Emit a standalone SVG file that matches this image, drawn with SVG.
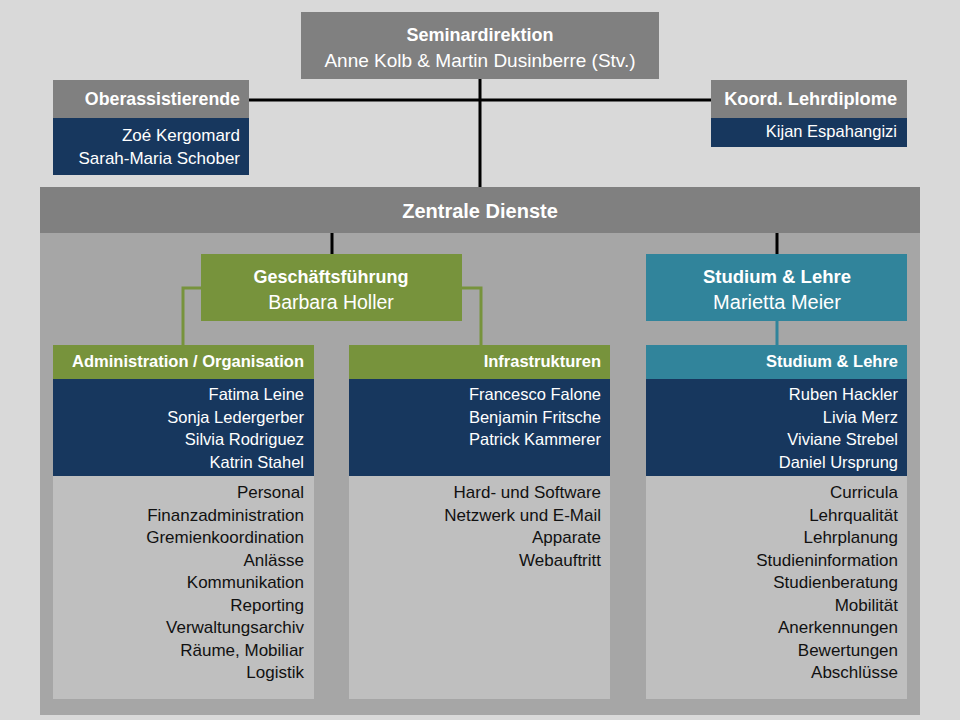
<svg xmlns="http://www.w3.org/2000/svg" width="960" height="720" viewBox="0 0 960 720">
<style>
text{font-family:"Liberation Sans","Open Sans",sans-serif;}
.w{fill:#fff;}
.b{font-weight:bold;}
.r{text-anchor:end;}
.c{text-anchor:middle;}
.gray{fill:#808080;}
.navy{fill:#17375e;}
.green{fill:#77933c;}
.teal{fill:#31849b;}
.lt{fill:#bfbfbf;}
.t{fill:#111;font-size:17px;}
.n{fill:#fff;font-size:16.5px;}
.h{fill:#fff;font-size:16.5px;font-weight:bold;}
</style>
<rect width="960" height="720" fill="#d9d9d9"/>
<g id="zentrale">
<rect x="40" y="187" width="880" height="528" fill="#a6a6a6"/>
<rect x="40" y="187" width="880" height="46" class="gray"/>
<text x="480" y="218" class="w b c" font-size="20">Zentrale Dienste</text>
</g>
<g id="connectors">
<path d="M249 100H711M480 79V187" stroke="#000" stroke-width="3" fill="none"/>
<path d="M332 233V254M777 233V254" stroke="#000" stroke-width="3" fill="none"/>
<path d="M201 288H183V345M462 288H481V345" stroke="#77933c" stroke-width="3" fill="none"/>
<path d="M777 321V345" stroke="#31849b" stroke-width="3" fill="none"/>
</g>
<g id="seminardirektion">
<rect x="301" y="12" width="358" height="67" class="gray"/>
<text x="480" y="41" class="w b c" font-size="18">Seminardirektion</text>
<text x="480" y="67" class="w c" font-size="19">Anne Kolb &amp; Martin Dusinberre (Stv.)</text>
</g>
<g id="oberassistierende">
<rect x="53" y="80" width="196" height="38" class="gray"/>
<rect x="53" y="118" width="196" height="57" class="navy"/>
<text x="240" y="105" class="w b r" font-size="17.8">Oberassistierende</text>
<text x="240" y="141" class="n r" style="font-size:17px">Zoé Kergomard</text>
<text x="240" y="164" class="n r" style="font-size:17px">Sarah-Maria Schober</text>
</g>
<g id="koord">
<rect x="711" y="80" width="196" height="38" class="gray"/>
<rect x="711" y="118" width="196" height="29" class="navy"/>
<text x="897" y="105" class="w b r" font-size="18.2">Koord. Lehrdiplome</text>
<text x="897" y="137" class="n r">Kijan Espahangizi</text>
</g>
<g id="geschaeftsfuehrung">
<rect x="201" y="254" width="261" height="67" class="green"/>
<text x="331" y="283" class="w b c" font-size="18">Geschäftsführung</text>
<text x="331" y="309" class="w c" font-size="19.5">Barbara Holler</text>
</g>
<g id="studium-lehre-top">
<rect x="646" y="254" width="261" height="67" class="teal"/>
<text x="777" y="283" class="w b c" font-size="18.5">Studium &amp; Lehre</text>
<text x="777" y="309" class="w c" font-size="20">Marietta Meier</text>
</g>
<g id="administration">
<rect x="53" y="345" width="261" height="34" class="green"/>
<rect x="53" y="379" width="261" height="97" class="navy"/>
<rect x="53" y="476" width="261" height="223" class="lt"/>
<text x="304" y="367" class="h r">Administration / Organisation</text>
<text x="304" y="400" class="n r">Fatima Leine</text>
<text x="304" y="423" class="n r">Sonja Ledergerber</text>
<text x="304" y="445" class="n r">Silvia Rodriguez</text>
<text x="304" y="468" class="n r">Katrin Stahel</text>
<text x="304" y="498" class="t r">Personal</text>
<text x="304" y="521" class="t r">Finanzadministration</text>
<text x="304" y="543" class="t r">Gremienkoordination</text>
<text x="304" y="566" class="t r">Anlässe</text>
<text x="304" y="588" class="t r">Kommunikation</text>
<text x="304" y="611" class="t r">Reporting</text>
<text x="304" y="633" class="t r">Verwaltungsarchiv</text>
<text x="304" y="656" class="t r">Räume, Mobiliar</text>
<text x="304" y="678" class="t r">Logistik</text>
</g>
<g id="infrastrukturen">
<rect x="349" y="345" width="261" height="34" class="green"/>
<rect x="349" y="379" width="261" height="97" class="navy"/>
<rect x="349" y="476" width="261" height="223" class="lt"/>
<text x="601" y="367" class="h r">Infrastrukturen</text>
<text x="601" y="400" class="n r">Francesco Falone</text>
<text x="601" y="423" class="n r">Benjamin Fritsche</text>
<text x="601" y="445" class="n r">Patrick Kammerer</text>
<text x="601" y="498" class="t r">Hard- und Software</text>
<text x="601" y="521" class="t r">Netzwerk und E-Mail</text>
<text x="601" y="543" class="t r">Apparate</text>
<text x="601" y="566" class="t r">Webauftritt</text>
</g>
<g id="studium-lehre">
<rect x="646" y="345" width="261" height="34" class="teal"/>
<rect x="646" y="379" width="261" height="97" class="navy"/>
<rect x="646" y="476" width="261" height="223" class="lt"/>
<text x="898" y="367" class="h r">Studium &amp; Lehre</text>
<text x="898" y="400" class="n r">Ruben Hackler</text>
<text x="898" y="423" class="n r">Livia Merz</text>
<text x="898" y="445" class="n r">Viviane Strebel</text>
<text x="898" y="468" class="n r">Daniel Ursprung</text>
<text x="898" y="498" class="t r">Curricula</text>
<text x="898" y="521" class="t r">Lehrqualität</text>
<text x="898" y="543" class="t r">Lehrplanung</text>
<text x="898" y="566" class="t r">Studieninformation</text>
<text x="898" y="588" class="t r">Studienberatung</text>
<text x="898" y="611" class="t r">Mobilität</text>
<text x="898" y="633" class="t r">Anerkennungen</text>
<text x="898" y="656" class="t r">Bewertungen</text>
<text x="898" y="678" class="t r">Abschlüsse</text>
</g>
</svg>
